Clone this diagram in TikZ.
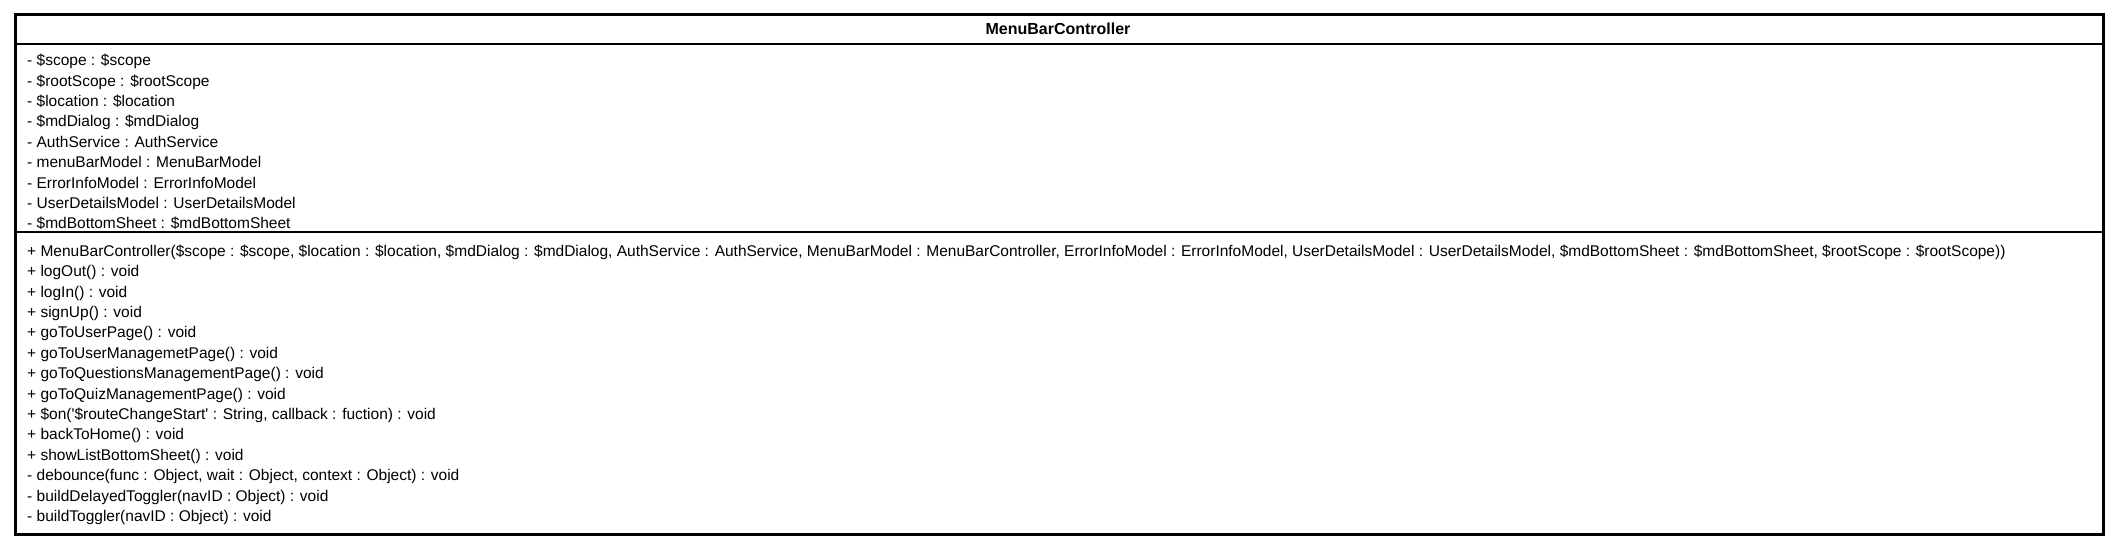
\documentclass[tikz,border=0pt]{standalone}
\usepackage{fontspec}
\setmainfont{Liberation Sans}
\usetikzlibrary{positioning}

\begin{document}
\begin{tikzpicture}
            [x=1pt,y=-1pt,
             member/.style = {anchor=north west, inner xsep=0pt, inner ysep=0pt, text height=14pt, text depth=6pt, font=\fontsize{15.5pt}{20pt}\selectfont},
             title/.style = {font=\fontsize{16pt}{20pt}\selectfont\bfseries},
             frame/.style = {draw, line width=2.7pt, rectangle, anchor=north west, inner sep=0pt, minimum width=2088pt, minimum height=520pt},
             sep/.style = {line width=1.3pt}]
            \useasboundingbox (0,0) rectangle (2116,545);
            \node[frame] (ClassBox) at (14,13) {};
            \node[title] (ClassName) at (1058,29) {MenuBarController};
            \draw[sep] (14,44) -- (2102,44);
            \draw[sep] (14,232) -- (2102,232);

            % attributes
            \node[member] (AttrScope) at (27,51.5) {- \$scope : \$scope};
            \node[member] (AttrRootScope) [below right=0pt and 0pt of AttrScope.south west] {- \$rootScope : \$rootScope};
            \node[member] (AttrLocation) [below right=0pt and 0pt of AttrRootScope.south west] {- \$location : \$location};
            \node[member] (AttrMdDialog) [below right=0pt and 0pt of AttrLocation.south west] {- \$mdDialog : \$mdDialog};
            \node[member] (AttrAuthService) [below right=0pt and 0pt of AttrMdDialog.south west] {- AuthService : AuthService};
            \node[member] (AttrMenuBarModel) [below right=0pt and 0pt of AttrAuthService.south west] {- menuBarModel : MenuBarModel};
            \node[member] (AttrErrorInfoModel) [below right=0pt and 0pt of AttrMenuBarModel.south west] {- ErrorInfoModel : ErrorInfoModel};
            \node[member] (AttrUserDetailsModel) [below right=0pt and 0pt of AttrErrorInfoModel.south west] {- UserDetailsModel : UserDetailsModel};
            \node[member] (AttrMdBottomSheet) [below right=0pt and 0pt of AttrUserDetailsModel.south west] {- \$mdBottomSheet : \$mdBottomSheet};

            % operations
            \node[member] (OpConstructor) at (27,242) {+ MenuBarController(\$scope : \$scope, \$location : \$location, \$mdDialog : \$mdDialog, AuthService : AuthService, MenuBarModel : MenuBarController, ErrorInfoModel : ErrorInfoModel, UserDetailsModel : UserDetailsModel, \$mdBottomSheet : \$mdBottomSheet, \$rootScope : \$rootScope))};
            \node[member] (OpLogOut) [below right=0pt and 0pt of OpConstructor.south west] {+ logOut() : void};
            \node[member] (OpLogIn) [below right=0pt and 0pt of OpLogOut.south west] {+ logIn() : void};
            \node[member] (OpSignUp) [below right=0pt and 0pt of OpLogIn.south west] {+ signUp() : void};
            \node[member] (OpUserPage) [below right=0pt and 0pt of OpSignUp.south west] {+ goToUserPage() : void};
            \node[member] (OpUserMgmt) [below right=0pt and 0pt of OpUserPage.south west] {+ goToUserManagemetPage() : void};
            \node[member] (OpQuestionsMgmt) [below right=0pt and 0pt of OpUserMgmt.south west] {+ goToQuestionsManagementPage() : void};
            \node[member] (OpQuizMgmt) [below right=0pt and 0pt of OpQuestionsMgmt.south west] {+ goToQuizManagementPage() : void};
            \node[member] (OpOn) [below right=0pt and 0pt of OpQuizMgmt.south west] {+ \$on(\textquotesingle\$routeChangeStart\textquotesingle\ : String, callback : fuction) : void};
            \node[member] (OpBackToHome) [below right=0pt and 0pt of OpOn.south west] {+ backToHome() : void};
            \node[member] (OpShowSheet) [below right=0pt and 0pt of OpBackToHome.south west] {+ showListBottomSheet() : void};
            \node[member] (OpDebounce) [below right=0pt and 0pt of OpShowSheet.south west] {- debounce(func : Object, wait : Object, context : Object) : void};
            \node[member] (OpDelayedToggler) [below right=0pt and 0pt of OpDebounce.south west] {- buildDelayedToggler(navID : Object) : void};
            \node[member] (OpToggler) [below right=0pt and 0pt of OpDelayedToggler.south west] {- buildToggler(navID : Object) : void};
        \end{tikzpicture}
\end{document}
